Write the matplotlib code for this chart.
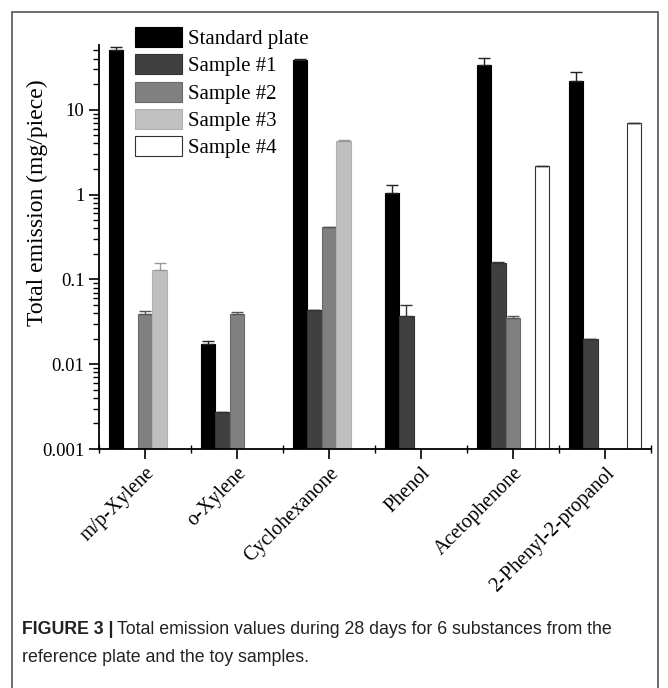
import numpy as np
import matplotlib
matplotlib.use("Agg")
import matplotlib.pyplot as plt
from matplotlib.ticker import LogLocator, FuncFormatter, NullFormatter, FixedLocator
from matplotlib.patches import Rectangle
from matplotlib.transforms import ScaledTranslation

# ---- data ----
substances = ["m/p-Xylene", "o-Xylene", "Cyclohexanone", "Phenol",
              "Acetophenone", "2-Phenyl-2-propanol"]
series = ["Standard plate", "Sample #1", "Sample #2", "Sample #3", "Sample #4"]
nan = np.nan
standard = [50, 0.0172, 39, 1.03, 34, 22]
sample1 = [nan, 0.0027, 0.044, 0.037, 0.155, 0.020]
sample2 = [0.039, 0.039, 0.42, nan, 0.035, nan]
sample3 = [0.13, nan, 4.3, nan, nan, nan]
sample4 = [nan, nan, nan, nan, 2.2, 7.0]
standard_err = [5, 0.0018, 0.8, 0.28, 7, 6]
sample1_err = [nan, 0.0, 0.0, 0.013, 0.007, 0.0]
sample2_err = [0.0035, 0.002, 0.0, nan, 0.0018, nan]
sample3_err = [0.025, nan, 0.15, nan, nan, nan]
sample4_err = [nan, nan, nan, nan, 0.0, 0.0]

values = [standard, sample1, sample2, sample3, sample4]
errors = [standard_err, sample1_err, sample2_err, sample3_err, sample4_err]
fills = ["#000000", "#404040", "#808080", "#c0c0c0", "#ffffff"]
edges = ["#000000", "#333333", "#6a6a6a", "#b0b0b0", "#333333"]
errcols = ["#222222", "#333333", "#555555", "#999999", "#333333"]

plt.rcParams["font.family"] = ["Liberation Serif", "DejaVu Serif"]

fig = plt.figure(figsize=(6.68, 6.88), dpi=100)
ax = fig.add_axes([99/668, 1-449/688, 552/668, 404/688])

x = np.arange(len(substances))
w = 0.158
for i, (vals, errs) in enumerate(zip(values, errors)):
    pos = x + (i - 2) * w
    v = np.array(vals, dtype=float)
    e = np.array(errs, dtype=float)
    ax.bar(pos, v, width=w, color=fills[i], edgecolor=edges[i], linewidth=0.8,
           label=series[i], zorder=2)
    ok = ~np.isnan(v) & ~np.isnan(e)
    ax.errorbar(pos[ok], v[ok], yerr=[np.zeros(ok.sum()), e[ok]], fmt="none",
                ecolor=errcols[i], elinewidth=1, capsize=4, capthick=1, zorder=3)

ax.set_yscale("log")
ax.set_ylim(0.001, 58)
ax.set_xlim(-0.5, 5.5)
ax.yaxis.set_major_locator(LogLocator(base=10, numticks=10))
ax.yaxis.set_minor_locator(LogLocator(base=10, subs=np.arange(2, 10), numticks=100))
ax.yaxis.set_major_formatter(FuncFormatter(lambda v, p: f"{v:g}"))
ax.yaxis.set_minor_formatter(NullFormatter())
ax.set_xticks(x)
ax.set_xticklabels(substances, rotation=45, ha="right", rotation_mode="anchor",
                   fontsize=14.5)
for lbl in ax.get_xticklabels():
    lbl.set_transform(lbl.get_transform() +
                      ScaledTranslation(12/100, -8/100, fig.dpi_scale_trans))
ax.xaxis.set_minor_locator(FixedLocator(np.arange(-0.5, 6, 1)))
ax.tick_params(axis="y", which="major", direction="out", length=7, width=1.2,
               labelsize=13.5)
ax.tick_params(axis="y", which="minor", direction="out", length=4, width=1)
ax.tick_params(axis="x", which="major", direction="out", length=7, width=1.2)
ax.tick_params(axis="x", which="minor", direction="inout", length=6, width=1)
for s in ["top", "right"]:
    ax.spines[s].set_visible(False)
for s in ["left", "bottom"]:
    ax.spines[s].set_linewidth(1.3)
ax.set_ylabel("Total emission (mg/piece)", fontsize=17)
ax.yaxis.set_label_coords(-0.093, 0.61)

ax.legend(loc="upper left", bbox_to_anchor=(135/668, 1-27/688),
          bbox_transform=fig.transFigure, frameon=False, fontsize=15,
          borderpad=0, borderaxespad=0, labelspacing=0.25,
          handlelength=2.25, handleheight=1.1, handletextpad=0.3)

# caption and frame
fig.patches.append(Rectangle((12/668, -0.05), 646/668, 1.05 - 12/688,
                             transform=fig.transFigure, fill=False,
                             edgecolor="#555555", linewidth=1.2))
cap_font = ["Liberation Sans", "DejaVu Sans"]
t1 = fig.text(22/668, 1-634/688, "FIGURE 3 |", fontsize=12.8, fontweight="bold",
              family=cap_font, color="#222222", va="baseline")
fig.canvas.draw()
bb = t1.get_window_extent()
fig.text(bb.x1/fig.bbox.width + 4/668, 1-634/688,
         "Total emission values during 28 days for 6 substances from the",
         fontsize=12.8, family=cap_font, color="#222222", va="baseline")
fig.text(22/668, 1-662/688, "reference plate and the toy samples.",
         fontsize=12.8, family=cap_font, color="#222222", va="baseline")

plt.savefig("out.png", dpi=100)
